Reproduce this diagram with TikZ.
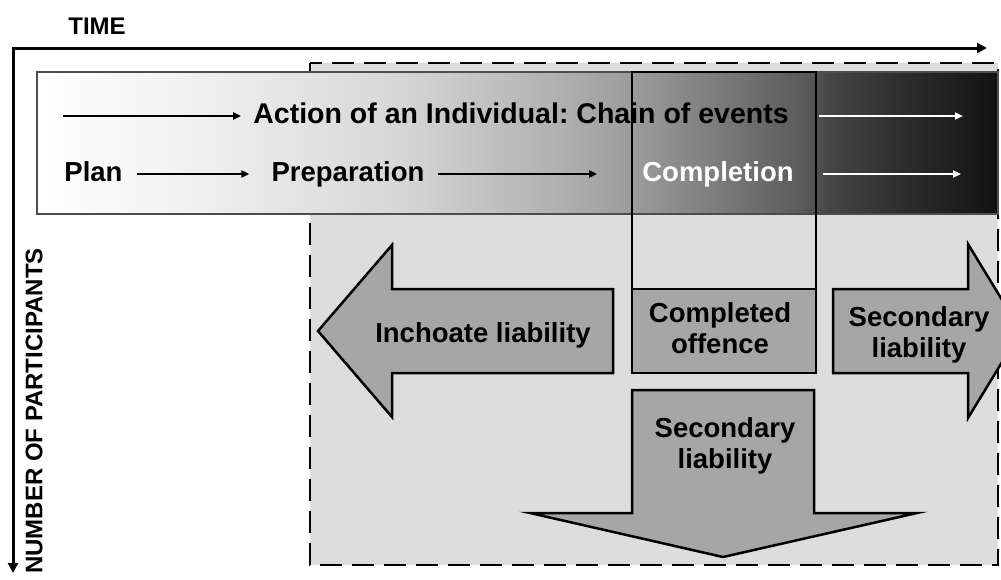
\documentclass[tikz,border=0pt]{standalone}
\usepackage{fontspec}
\setmainfont{Liberation Sans}
\usetikzlibrary{arrows.meta}
\frenchspacing

\definecolor{bggray}{HTML}{DDDDDD}
\definecolor{arrowgray}{HTML}{A6A6A6}

% white on the left, nearly black on the right
\pgfdeclarehorizontalshading{chainshade}{100bp}{color(0bp)=(white); color(25bp)=(white);
  color(33.5bp)=(black!6); color(43.9bp)=(black!16); color(52.2bp)=(black!31);
  color(56.4bp)=(black!40); color(64.7bp)=(black!64); color(66.3bp)=(black!73);
  color(69.9bp)=(black!82); color(75bp)=(black!93); color(100bp)=(black!93)}

\tikzset{
  lbl/.style={inner sep=0pt, font=\fontsize{27.5}{31}\selectfont\bfseries,
    text height=19pt, text depth=5pt},
  boxlbl/.style={inner sep=0pt, align=center, font=\fontsize{27.5}{31}\selectfont\bfseries},
  axislbl/.style={inner sep=0pt, font=\fontsize{24}{28}\selectfont\bfseries},
  axisline/.style={line width=3pt, {Triangle[length=10pt,width=10pt]}-{Triangle[length=10pt,width=10pt]}},
  thinarr/.style={line width=2pt, -{Triangle[length=8pt,width=7pt]}},
  whitearr/.style={thinarr, white},
  bigarrow/.style={fill=arrowgray, draw=black, line width=2.5pt, line join=miter},
  column/.style={draw=black, line width=2.5pt},
}

\begin{document}
\begin{tikzpicture}[x=1pt,y=-1pt]
  \useasboundingbox (0,0) rectangle (1001,579);

  % Axes
  \coordinate (origin) at (13,48);
  \coordinate (tend) at (987,48);
  \coordinate (pend) at (13,573);
  \draw[axisline] (tend) -- (origin) -- (pend);
  \node[axislbl] (time) at (97,26) {TIME};
  \node[axislbl, rotate=90] (participants) at (34,411) {NUMBER OF PARTICIPANTS};

  % Grey area and the chain of events
  \draw[fill=bggray, line width=2.5pt, dash pattern=on 22pt off 10pt] (310,63) rectangle (998,565);
  \shadedraw[shading=chainshade, draw=black!70, line width=1.2pt] (37,72) rectangle (998,214);

  \coordinate (start) at (63,116);
  \coordinate (w1) at (963,116);
  \coordinate (w2) at (961,174);
  \node[lbl, font=\fontsize{28.5}{31}\selectfont\bfseries] (action) at (521,116) {Action of an Individual: Chain of events};
  \node[lbl] (plan) at (93.5,174) {Plan};
  \node[lbl] (prep) at (348,174) {Preparation};
  \node[lbl, text=white] (compl) at (718,174) {Completion};

  \draw[thinarr] (start) -- ([xshift=-12pt]action.west);
  \draw[thinarr] ([xshift=14pt]plan.east) -- ([xshift=-22pt]prep.west);
  \draw[thinarr] ([xshift=13pt]prep.east) -- ([xshift=-45pt]compl.west);
  \draw[whitearr] ([xshift=30pt]action.east) -- (w1);
  \draw[whitearr] ([xshift=29pt]compl.east) -- (w2);

  \draw[column] (632,72) rectangle (816,289);

  % Liability arrows
  \draw[bigarrow] (613,289) -- (392,289) -- (392,245) -- (318,331) -- (392,417) -- (392,373) -- (613,373) -- cycle;
  \node[lbl] (inch) at (483,335) {Inchoate liability};

  \draw[bigarrow] (632,289) rectangle (816,373);
  \node[boxlbl] (done) at (720,328) {Completed\\offence};

  \draw[bigarrow] (833,289) -- (968,289) -- (968,244) -- (1021,331) -- (968,418) -- (968,373) -- (833,373) -- cycle;
  \node[boxlbl] (sec1) at (919,335) {Secondary\\liability};

  \draw[bigarrow] (632,390) -- (814,390) -- (814,513) -- (917,513) -- (723,557) -- (530,513) -- (632,513) -- cycle;
  \node[boxlbl] (sec2) at (725,446) {Secondary\\liability};
\end{tikzpicture}
\end{document}
